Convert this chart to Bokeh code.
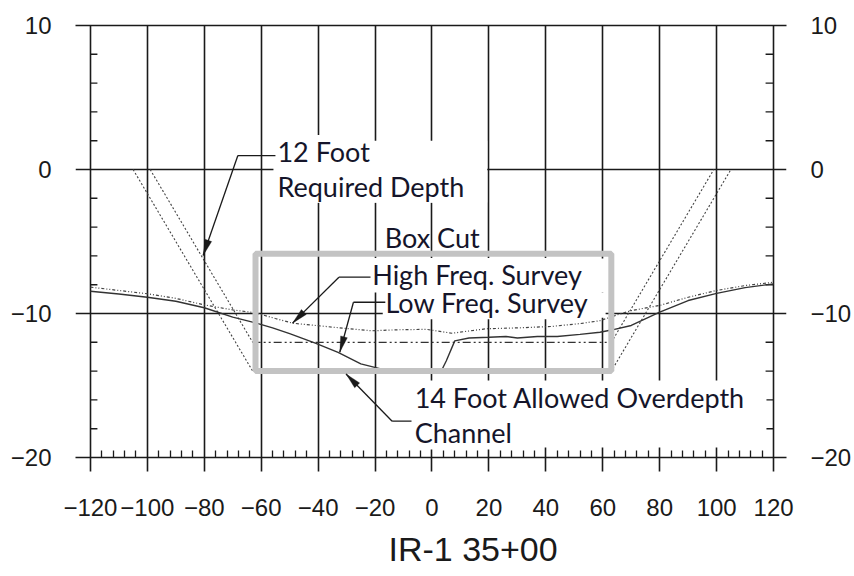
import math
from bokeh.plotting import figure
from bokeh.models import (Range1d, FixedTicker, LinearAxis, Label, Arrow, PolyAnnotation,
                          Title)
from bokeh.embed import file_html
from bokeh.resources import INLINE

# ---------------- data ----------------
x_ticks = [-120, -100, -80, -60, -40, -20, 0, 20, 40, 60, 80, 100, 120]
x_minor_ticks = [v for v in range(-116, 120, 4) if v % 20 != 0]
y_ticks = [-20, -10, 0, 10]
y_minor_ticks = [v for v in range(-18, 10, 2) if v % 10 != 0]
y_grid_ticks = [-10, 0]

# High frequency survey (upper, dotted)
high_x = [-120, -110, -100, -90, -80, -70, -62, -55, -49, -41, -29, -21, -12, -2,
          7, 19, 30, 42, 52, 59, 65, 70, 80, 90, 100, 110, 120]
high_y = [-8.17, -8.4, -8.63, -8.95, -9.4, -9.75, -9.95, -10.35, -10.67, -10.83, -11.06,
          -11.2, -11.13, -11.1, -11.37, -11.06, -11.0, -10.9, -10.7, -10.5, -10.1, -9.8,
          -9.44, -8.87, -8.4, -8.06, -7.83]

# Low frequency survey (lower, solid)
low_x = [-120, -110, -100, -90, -80, -70, -62, -56, -50, -41, -33, -25, -18, -10, 0, 3,
         5, 8, 13, 20, 26, 30, 37, 44, 52, 59, 63, 70, 80, 90, 100, 110, 120]
low_y = [-8.45, -8.65, -8.87, -9.15, -9.6, -10.25, -10.65, -11.0, -11.4, -12.06, -12.7,
         -13.5, -13.85, -14.05, -14.15, -14.1, -13.3, -11.9, -11.7, -11.65, -11.6, -11.7,
         -11.6, -11.6, -11.45, -11.3, -11.15, -10.83, -9.9, -9.1, -8.6, -8.2, -7.94]

# 12 ft required depth template and 14 ft allowed overdepth template
req_x = [-99, -63, 63, 99]
req_y = [0, -12, -12, 0]
over_x = [-105, -63, 63, 105]
over_y = [0, -14, -14, 0]

# Box cut
box_x = [-62, 63]
box_y = [-14, -5.85]

# ---------------- figure ----------------
X0, X1 = -125.24, 124.54
Y0, Y1 = -20, 10
W, H = 854, 576
ML, MR, MT, MB = 75, 64, 25, 119
PX = (W - ML - MR) / (X1 - X0)
PY = (H - MT - MB) / (Y1 - Y0)

INK = "#1a1a1a"
TXT = "#15152a"
LBL_FONT = "Lato"
LBL_SIZE = "27px"
DY = 0.76  # baseline correction (data units)

p = figure(width=W, height=H, x_range=Range1d(X0, X1), y_range=Range1d(Y0, Y1),
           output_backend="svg", toolbar_location=None,
           min_border_left=ML, min_border_right=MR, min_border_top=MT, min_border_bottom=MB)
p.outline_line_color = None
p.background_fill_color = "white"
p.border_fill_color = "white"

# grids
p.xgrid.ticker = FixedTicker(ticks=x_ticks)
p.xgrid.bounds = (Y0, Y1)
p.xgrid.grid_line_color = INK
p.xgrid.grid_line_width = 1.6
p.ygrid.ticker = FixedTicker(ticks=y_grid_ticks)
p.ygrid.grid_line_color = INK
p.ygrid.grid_line_width = 1.6

# bottom axis
xa = p.xaxis[0]
xa.ticker = FixedTicker(ticks=x_ticks, minor_ticks=x_minor_ticks)
xa.axis_line_color = INK
xa.axis_line_width = 1.6
xa.major_tick_line_color = INK
xa.major_tick_line_width = 1.6
xa.major_tick_in = 0
xa.major_tick_out = 14
xa.minor_tick_line_color = INK
xa.minor_tick_line_width = 1.3
xa.minor_tick_in = 7
xa.minor_tick_out = 0
xa.major_label_text_font = "Liberation Sans"
xa.major_label_text_font_size = "24px"
xa.major_label_text_color = INK
xa.major_label_standoff = 27

# station title below the axis
p.add_layout(Title(text="IR-1 35+00", align="left", offset=313, standoff=18,
                   text_font="Liberation Sans", text_font_size="34px",
                   text_font_style="normal", text_color=INK), "below")

# top axis (only its line)
ta = LinearAxis(ticker=FixedTicker(ticks=[]), axis_line_color=INK, axis_line_width=1.6,
                major_tick_line_color=None, minor_tick_line_color=None,
                major_tick_out=0, minor_tick_out=0, major_label_standoff=0)
p.add_layout(ta, "above")

# left and right axes (labels only)
def style_y(ax, standoff):
    ax.ticker = FixedTicker(ticks=y_ticks)
    ax.axis_line_color = None
    ax.major_tick_line_color = None
    ax.minor_tick_line_color = None
    ax.major_tick_out = 0
    ax.major_tick_in = 0
    ax.minor_tick_out = 0
    ax.major_label_standoff = standoff
    ax.major_label_text_font = "Liberation Sans"
    ax.major_label_text_font_size = "24px"
    ax.major_label_text_color = INK

style_y(p.yaxis[0], 24)
ra = LinearAxis()
style_y(ra, 24)
p.add_layout(ra, "right")

# inward minor ticks on the left and right frame lines
p.ray(x=[x_ticks[0]] * len(y_minor_ticks), y=y_minor_ticks, length=7,
      length_units="screen", angle=0, line_color=INK, line_width=1.4)
p.ray(x=[x_ticks[-1]] * len(y_minor_ticks), y=y_minor_ticks, length=8,
      length_units="screen", angle=math.pi, line_color=INK, line_width=1.4)

# templates
p.line(over_x, over_y, line_color="#444444", line_width=1.1, line_dash="2 2")
p.line(req_x[:2], req_y[:2], line_color="#444444", line_width=1.1, line_dash="2 2")
p.line(req_x[2:], req_y[2:], line_color="#444444", line_width=1.1, line_dash="2 2")
p.line(req_x[1:3], req_y[1:3], line_color="#333333", line_width=1.2,
       line_dash="8 3 2 3 2 3")

# surveys
p.line(high_x, high_y, line_color="#444444", line_width=1.2, line_dash="3 2 1 2 1 2")
p.line(low_x, low_y, line_color="#333333", line_width=1.4)

# box cut
p.quad(left=box_x[0], right=box_x[1], bottom=box_y[0], top=box_y[1],
       fill_color=None, line_color="#c3c3c3", line_width=6)

# ---------------- annotations ----------------
# white backgrounds behind the callout texts
bg_left = [-55.7, -22.2, -17.3, -9.9]
bg_right = [19.4, 61.0, 61.0, 117.5]
bg_top = [2.0, -6.18, -8.54, -14.65]
bg_bottom = [-2.3, -8.54, -10.3, -19.3]
p.quad(left=bg_left, right=bg_right, top=bg_top, bottom=bg_bottom,
       fill_color="white", line_color=None, level="guide")

def label(x, y, text, bg="white"):
    p.add_layout(Label(x=x, y=y + DY, text=text, text_font=LBL_FONT,
                       text_font_size=LBL_SIZE, text_color=TXT, text_align="left",
                       text_baseline="alphabetic", background_fill_color=bg))

# lower lines first so their backgrounds do not hide descenders of upper lines
label(-54.3, -1.92, "Required Depth")
label(-54.3, 0.49, "12 Foot")
label(-16.6, -5.49, "Box Cut", bg=None)
label(-16.35, -10.02, "Low Freq. Survey")
label(-21.0, -8.06, "High Freq. Survey")
label(-6.1, -19.05, "Channel")
label(-6.1, -16.6, "14 Foot Allowed Overdepth")

def leader(pts, L=16, HW=3.5):
    for (xa_, ya_), (xb_, yb_) in zip(pts[:-1], pts[1:]):
        p.add_layout(Arrow(end=None, x_start=xa_, y_start=ya_, x_end=xb_, y_end=yb_,
                           line_color=INK, line_width=1.3))
    (fx, fy), (tx, ty) = pts[-2], pts[-1]
    dx, dy = (tx - fx) * PX, (ty - fy) * PY
    n = math.hypot(dx, dy)
    ux, uy = dx / n, dy / n
    bx, by = -ux * L, -uy * L
    qx, qy = -uy * HW, ux * HW
    xs = [tx, tx + (bx + qx) / PX, tx + (bx - qx) / PX]
    ys = [ty, ty + (by + qy) / PY, ty + (by - qy) / PY]
    p.add_layout(PolyAnnotation(xs=xs, ys=ys, fill_color=INK, fill_alpha=1.0,
                                line_color=INK, line_width=1))

leader([(-55.0, 0.97), (-68.2, 0.97), (-80.4, -5.97)])
leader([(-21.6, -7.48), (-32.7, -7.48), (-49.0, -10.67)])
leader([(-16.4, -9.22), (-27.6, -9.22), (-32.4, -12.69)])
leader([(-7.2, -17.48), (-14.0, -17.48), (-30.2, -14.2)])

open("out.html", "w").write(file_html(p, INLINE))
